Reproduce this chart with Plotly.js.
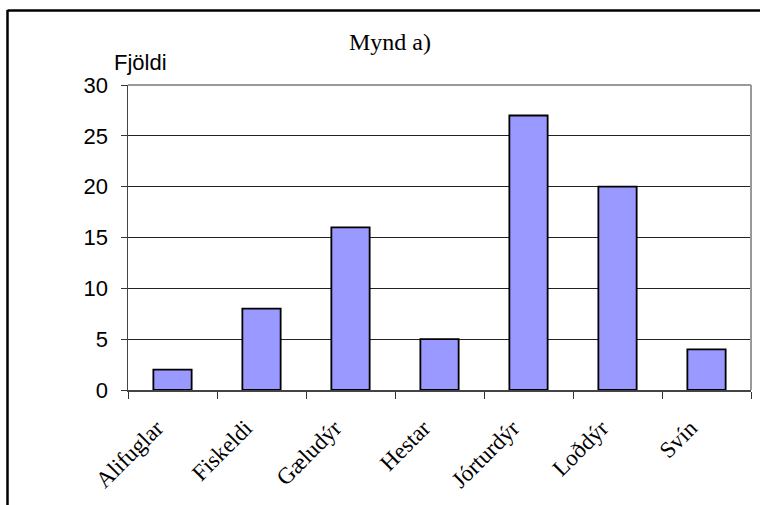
<!DOCTYPE html>
<html>
<head>
<meta charset="utf-8">
<script src="https://cdn.plot.ly/plotly-3.0.1.min.js"></script>
<style>html,body{margin:0;padding:0;background:#fff;}#chart{width:760px;height:505px;}</style>
</head>
<body>
<div id="chart"></div>
<script>
const categories = ["Alifuglar", "Fiskeldi", "Gæludýr", "Hestar", "Jórturdýr", "Loðdýr", "Svín"];
const counts = [2, 8, 16, 5, 27, 20, 4];
const yTicks = [0, 5, 10, 15, 20, 25, 30];
const titleText = "Mynd a)";
const yLabel = "Fjöldi";

const W = 760, H = 505;
const mL = 128, mR = 9, mT = 85, mB = 115;
const pw = W - mL - mR, ph = H - mT - mB;
const px = x => (x - mL) / pw;
const py = y => (H - mB - y) / ph;

const trace = {
  type: 'bar',
  x: categories,
  y: counts,
  marker: { color: '#9999FF', line: { color: '#000000', width: 1.8 } },
  hoverinfo: 'x+y'
};

const layout = {
  width: W, height: H,
  margin: { l: mL, r: mR, t: mT, b: mB, pad: 0 },
  paper_bgcolor: '#ffffff',
  plot_bgcolor: '#ffffff',
  showlegend: false,
  bargap: 0.57,
  title: {
    text: titleText,
    font: { family: 'Liberation Serif, Times New Roman, serif', size: 24, color: '#000' },
    xref: 'container', x: 390 / W, xanchor: 'center',
    yref: 'container', y: 1 - 42 / H, yanchor: 'middle'
  },
  xaxis: {
    type: 'category',
    range: [-0.5, categories.length - 0.5],
    tickson: 'boundaries',
    ticks: 'outside', ticklen: 7, tickwidth: 1, tickcolor: '#333',
    ticklabelstandoff: 14,
    ticklabelshift: -16,
    showline: true, linecolor: '#444', linewidth: 1.5,
    showgrid: false, zeroline: false,
    tickangle: -45,
    tickfont: { family: 'Liberation Serif, Times New Roman, serif', size: 23, color: '#000' },
    fixedrange: true
  },
  yaxis: {
    range: [0, 30],
    tickvals: yTicks,
    ticktext: yTicks.map(String),
    ticks: 'outside', ticklen: 6, tickwidth: 1, tickcolor: '#333',
    ticklabelstandoff: 8,
    showline: true, linecolor: '#444', linewidth: 1.5,
    showgrid: true, gridcolor: '#222', gridwidth: 1,
    zeroline: false,
    tickfont: { family: 'Liberation Sans, Arial, sans-serif', size: 22, color: '#000' },
    fixedrange: true
  },
  annotations: [{
    text: yLabel,
    xref: 'paper', yref: 'paper',
    x: px(112), y: py(62),
    xanchor: 'left', yanchor: 'middle',
    showarrow: false,
    font: { family: 'Liberation Sans, Arial, sans-serif', size: 22, color: '#000' }
  }],
  shapes: [
    { type: 'line', xref: 'paper', yref: 'paper', x0: 0, x1: 1, y0: 1, y1: 1, line: { color: '#999', width: 2 } },
    { type: 'line', xref: 'paper', yref: 'paper', x0: 1, x1: 1, y0: 0, y1: 1, line: { color: '#999', width: 2 } },
    { type: 'line', xref: 'paper', yref: 'paper', x0: px(7.5), x1: px(7.5), y0: py(10), y1: py(510), line: { color: '#000', width: 2.5 } },
    { type: 'line', xref: 'paper', yref: 'paper', x0: px(7.5), x1: px(765), y0: py(10.5), y1: py(10.5), line: { color: '#000', width: 2.5 } }
  ]
};

Plotly.newPlot('chart', [trace], layout, { displayModeBar: false, staticPlot: true });
</script>
</body>
</html>
